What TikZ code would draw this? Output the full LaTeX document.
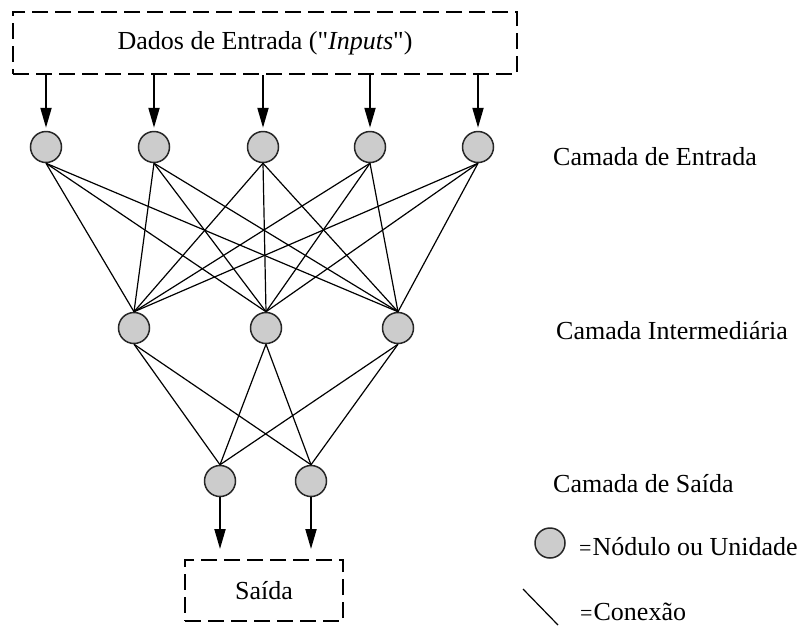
\documentclass[tikz,border=0pt]{standalone}
\usepackage{fontspec}
\setmainfont{Liberation Serif}
\usetikzlibrary{arrows.meta}
\begin{document}
\begin{tikzpicture}[x=1pt,y=-1pt,
  unit/.style={circle,draw=black!85,line width=1.5pt,fill=black!20,minimum size=31pt,inner sep=0pt},
  link/.style={line width=1.2pt,black},
  arr/.style={line width=2pt,-{Triangle[length=20pt,width=11pt]}},
  dbox/.style={draw,line width=2pt,dash pattern=on 16pt off 7pt,inner sep=0pt},
  lbl/.style={font=\fontsize{26}{31}\selectfont,text height=17pt,text depth=0pt,inner sep=0pt,anchor=west}]
\useasboundingbox (0,0) rectangle (799,625);
\node[dbox,minimum width=504pt,minimum height=62pt,font=\fontsize{26}{31}\selectfont] (top) at (265,43) {Dados de Entrada (\textquotedbl\textit{Inputs}\textquotedbl)};
\node[dbox,minimum width=158pt,minimum height=61pt,font=\fontsize{26}{31}\selectfont] (bot) at (264,590.5) {Saída};
\foreach \i/\x in {1/46,2/154,3/263,4/370,5/478}
  \node[unit] (in\i) at (\x,147) {};
\foreach \i/\x in {1/134,2/266,3/398}
  \node[unit] (h\i) at (\x,328) {};
\foreach \i/\x in {1/220,2/311}
  \node[unit] (o\i) at (\x,481) {};
\foreach \i in {1,...,5}
  \draw[arr,shorten >=3pt] (top.south -| in\i) -- (in\i.north);
\foreach \i in {1,...,5}
  \foreach \j in {1,2,3}
    \draw[link] (in\i.south) -- (h\j.north);
\foreach \j in {1,2,3}
  \foreach \k in {1,2}
    \draw[link] (h\j.south) -- (o\k.north);
\foreach \k in {1,2}
  \draw[arr,shorten >=10pt] (o\k.south) -- (bot.north -| o\k);
\node[lbl] (l1) at (553,157) {Camada de Entrada};
\node[lbl] (l2) at (556,331) {Camada Intermediária};
\node[lbl] (l3) at (553,484) {Camada de Saída};
\node[unit,minimum size=30pt] (leg) at (550,543) {};
\node[lbl] (legt) at (579,547) {{\fontsize{22}{26}\selectfont=}\kern1pt Nódulo ou Unidade};
\coordinate (ca) at (523,589);
\coordinate (cb) at (558,625);
\draw[link] (ca) -- (cb);
\node[lbl] (legc) at (580,612) {{\fontsize{22}{26}\selectfont=}\kern1pt Conexão};
\end{tikzpicture}
\end{document}
